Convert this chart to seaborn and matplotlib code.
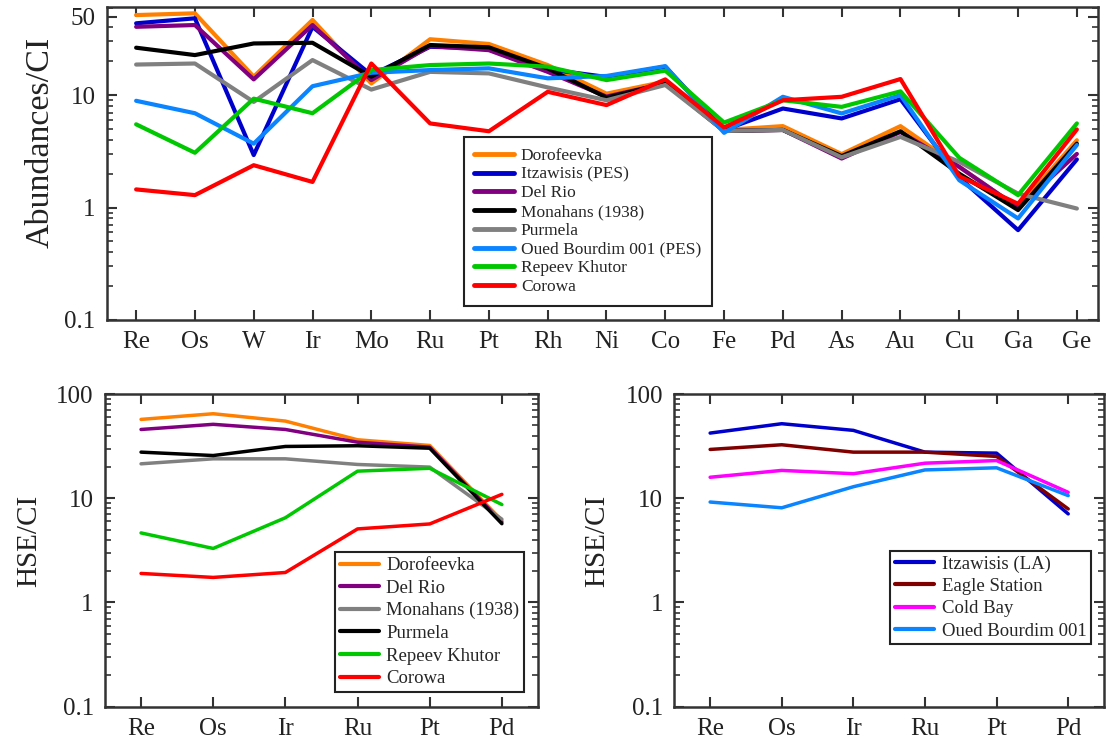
import numpy as np
import pandas as pd
import matplotlib
matplotlib.use("Agg")
import matplotlib.pyplot as plt
import seaborn as sns
from matplotlib.lines import Line2D
from matplotlib.ticker import LogLocator, NullLocator, NullFormatter

# ---------------- data ----------------
elements_top = ["Re", "Os", "W", "Ir", "Mo", "Ru", "Pt", "Rh", "Ni", "Co",
                "Fe", "Pd", "As", "Au", "Cu", "Ga", "Ge"]

dorofeevka_top = [51.5, 53.4, 14.6, 46.6, 12.7, 31.4, 28.5, 18.5, 10.3, 13.2, 4.9, 5.3, 2.99, 5.3, 2.3, 1.0, 3.97]
itzawisis_pes = [43.5, 48.2, 2.93, 40.5, 15.1, 26.9, 26.0, 17.0, 14.5, 17.9, 4.9, 7.6, 6.2, 9.2, 1.85, 0.63, 2.68]
delrio_top = [40.5, 42.0, 13.8, 42.0, 13.6, 27.3, 25.1, 16.1, 9.7, 12.7, 4.8, 4.9, 2.73, 4.7, 2.3, 1.0, 3.0]
monahans_top = [26.4, 22.7, 28.8, 29.2, 14.6, 27.9, 26.6, 17.3, 9.5, 12.7, 4.8, 4.9, 2.87, 4.77, 2.0, 0.95, 3.7]
purmela_top = [18.7, 19.1, 8.7, 20.5, 11.2, 16.1, 15.6, 11.7, 9.0, 12.3, 4.8, 4.9, 2.8, 4.25, 2.55, 1.33, 0.98]
oued_pes = [8.9, 6.9, 3.7, 12.0, 15.8, 16.7, 17.3, 14.1, 14.8, 18.1, 4.62, 9.66, 6.87, 10.0, 1.75, 0.80, 3.6]
repeev_top = [5.5, 3.07, 9.3, 6.9, 16.7, 18.5, 19.1, 17.9, 13.6, 16.5, 5.7, 9.0, 7.86, 10.8, 2.77, 1.29, 5.6]
corowa_top = [1.45, 1.29, 2.38, 1.69, 19.1, 5.6, 4.77, 10.7, 8.15, 13.8, 5.16, 9.0, 9.66, 13.9, 1.9, 1.08, 4.95]

hse = ["Re", "Os", "Ir", "Ru", "Pt", "Pd"]

dorofeevka_hse = [57.1, 64.7, 55.0, 36.4, 32.1, 6.1]
delrio_hse = [45.7, 51.2, 45.7, 34.5, 30.9, 5.9]
monahans_hse = [21.4, 23.9, 23.9, 21.1, 19.9, 6.3]
purmela_hse = [27.7, 25.7, 31.4, 31.9, 30.2, 5.7]
repeev_hse = [4.65, 3.3, 6.5, 18.2, 19.4, 8.7]
corowa_hse = [1.90, 1.74, 1.94, 5.08, 5.67, 10.9]

itzawisis_la = [42.2, 51.9, 44.8, 27.7, 27.1, 7.08]
eagle_station = [29.4, 32.6, 27.7, 27.7, 25.2, 7.9]
cold_bay = [15.9, 18.5, 17.2, 21.7, 23.0, 11.4]
oued_hse = [9.2, 8.1, 12.9, 18.7, 19.6, 10.6]

top_names = ["Dorofeevka", "Itzawisis (PES)", "Del Rio", "Monahans (1938)", "Purmela",
             "Oued Bourdim 001 (PES)", "Repeev Khutor", "Corowa"]
top_values = [dorofeevka_top, itzawisis_pes, delrio_top, monahans_top, purmela_top,
              oued_pes, repeev_top, corowa_top]
top_colors = ["#FF8000", "#0000CC", "#800080", "#000000", "#808080", "#0A84FF", "#00C800", "#FF0000"]

bl_names = ["Dorofeevka", "Del Rio", "Monahans (1938)", "Purmela", "Repeev Khutor", "Corowa"]
bl_values = [dorofeevka_hse, delrio_hse, monahans_hse, purmela_hse, repeev_hse, corowa_hse]
bl_colors = ["#FF8000", "#800080", "#808080", "#000000", "#00C800", "#FF0000"]

br_names = ["Itzawisis (LA)", "Eagle Station", "Cold Bay", "Oued Bourdim 001"]
br_values = [itzawisis_la, eagle_station, cold_bay, oued_hse]
br_colors = ["#0000CC", "#800000", "#FF00FF", "#0A84FF"]

# ---------------- style ----------------
sns.set_theme(style="ticks")
plt.rcParams["font.family"] = ["Liberation Serif", "DejaVu Serif"]
plt.rcParams["axes.linewidth"] = 1.8
plt.rcParams["axes.edgecolor"] = "#333333"

fig = plt.figure(figsize=(11.06, 7.44), dpi=100)
ax1 = fig.add_axes([0.0965, 0.5699, 0.8963, 0.4203])
ax2 = fig.add_axes([0.0949, 0.0501, 0.3915, 0.4203])
ax3 = fig.add_axes([0.6097, 0.0501, 0.3885, 0.4203])


def draw(ax, cats, names, values, colors, lw):
    rows = []
    for name, vals in zip(names, values):
        for i, (c, v) in enumerate(zip(cats, vals)):
            rows.append({"pos": i, "element": c, "value": v, "sample": name})
    df = pd.DataFrame(rows)
    sns.lineplot(data=df, x="pos", y="value", hue="sample", hue_order=names,
                 palette=dict(zip(names, colors)), linewidth=lw, ax=ax,
                 sort=False, estimator=None, legend=False)
    ax.set_yscale("log")
    ax.set_xticks(range(len(cats)))
    ax.set_xticklabels(cats)
    ax.set_xlim(-0.5, len(cats) - 0.5)
    ax.xaxis.set_minor_locator(NullLocator())
    ax.yaxis.set_minor_locator(LogLocator(base=10, subs=np.arange(2, 10)))
    ax.yaxis.set_minor_formatter(NullFormatter())
    ax.tick_params(which="both", direction="in", top=True, right=True,
                   color="#333333", labelcolor="#222222", labelsize=18)
    ax.tick_params(which="major", length=7, width=1.5, pad=8)
    ax.tick_params(which="minor", length=4, width=1.2)
    ax.set_xlabel("")
    for s in ax.spines.values():
        s.set_color("#333333")
        s.set_linewidth(1.8)
    handles = [Line2D([], [], color=c, lw=lw + 0.5) for c in colors]
    return handles


h1 = draw(ax1, elements_top, top_names, top_values, top_colors, 3.0)
ax1.set_ylim(0.1, 60.4)
ax1.set_xlim(-0.5, 16.36)
ax1.set_yticks([0.1, 1, 10, 50])
ax1.set_yticklabels(["0.1", "1", "10", "50"])
ax1.set_ylabel("Abundances/CI", fontsize=24.5, color="#222222")
ax1.yaxis.set_label_coords(-0.052, 0.568)
leg1 = ax1.legend(h1, top_names, loc="upper left", bbox_to_anchor=(0.36, 0.584),
                  borderaxespad=0, fontsize=12.5, frameon=True, fancybox=False,
                  edgecolor="#222222", framealpha=1, handlelength=2.3,
                  handletextpad=0.4, labelspacing=0.15, borderpad=0.6)
leg1.get_frame().set_linewidth(1.5)

h2 = draw(ax2, hse, bl_names, bl_values, bl_colors, 2.5)
ax2.set_ylim(0.1, 100)
ax2.set_yticks([0.1, 1, 10, 100])
ax2.set_yticklabels(["0.1", "1", "10", "100"])
ax2.set_ylabel("HSE/CI", fontsize=21, color="#222222")
ax2.yaxis.set_label_coords(-0.146, 0.531)
leg2 = ax2.legend(h2, bl_names, loc="upper left", bbox_to_anchor=(0.531, 0.494),
                  borderaxespad=0, fontsize=13.5, frameon=True, fancybox=False,
                  edgecolor="#222222", framealpha=1, handlelength=2.1,
                  handletextpad=0.4, labelspacing=0.29, borderpad=0.25)
leg2.get_frame().set_linewidth(1.5)

h3 = draw(ax3, hse, br_names, br_values, br_colors, 2.5)
ax3.set_ylim(0.1, 100)
ax3.set_yticks([0.1, 1, 10, 100])
ax3.set_yticklabels(["0.1", "1", "10", "100"])
ax3.set_ylabel("HSE/CI", fontsize=21, color="#222222")
ax3.yaxis.set_label_coords(-0.150, 0.531)
leg3 = ax3.legend(h3, br_names, loc="upper left", bbox_to_anchor=(0.502, 0.499),
                  borderaxespad=0, fontsize=13.5, frameon=True, fancybox=False,
                  edgecolor="#222222", framealpha=1, handlelength=2.1,
                  handletextpad=0.4, labelspacing=0.28, borderpad=0.25)
leg3.get_frame().set_linewidth(1.5)

fig.savefig("out.png", dpi=100)
